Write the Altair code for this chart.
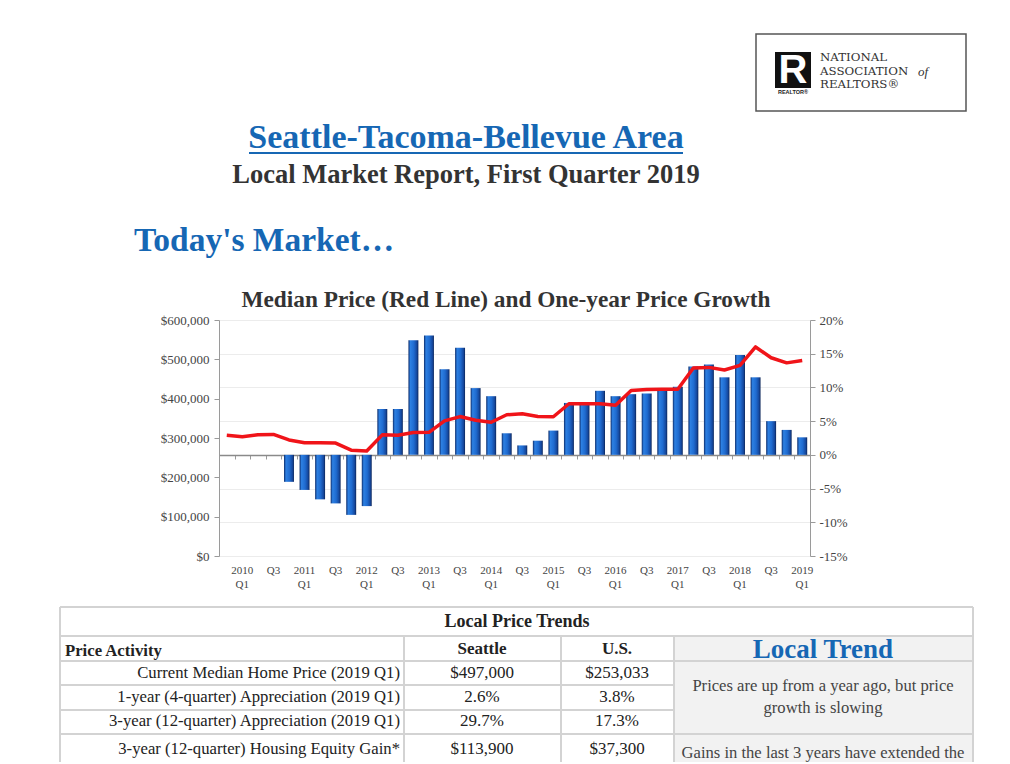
import altair as alt
import pandas as pd

# ---------------- data ----------------
quarters = ["2009 Q4"] + [f"{y} Q{q}" for y in range(2010, 2019) for q in range(1, 5)] + ["2019 Q1"]

median_price = [
    306800,
    303400, 308000, 309000, 295000,
    288000, 288000, 287000, 269000,
    267000, 308000, 307000, 314000,
    314500, 343500, 354500, 345000,
    340000, 359000, 361500, 354500,
    354000, 387000, 387000, 387000,
    383000, 421000, 423000, 424000,
    424000, 478000, 479500, 473000,
    484500, 531500, 504000, 491000,
    497000,
]

price_growth = [
    None,
    None, None, None, -4.0,
    -5.2, -6.6, -7.2, -8.9,
    -7.6, 6.8, 6.8, 17.0,
    17.7, 12.7, 15.9, 9.9,
    8.7, 3.2, 1.4, 2.1,
    3.6, 7.7, 7.4, 9.5,
    8.7, 9.0, 9.1, 9.5,
    10.1, 13.1, 13.4, 11.5,
    14.8, 11.5, 5.0, 3.7,
    2.6,
]

label_quarters = [q for q in quarters if (q.endswith("Q1") or q.endswith("Q3")) and q != "2009 Q4"]

price_ticks = [0, 100000, 200000, 300000, 400000, 500000, 600000]
growth_ticks = [-15, -10, -5, 0, 5, 10, 15, 20]

table_rows = [
    "Current Median Home Price (2019 Q1)",
    "1-year (4-quarter) Appreciation (2019 Q1)",
    "3-year (12-quarter) Appreciation (2019 Q1)",
    "3-year (12-quarter) Housing Equity Gain*",
]
seattle_vals = ["$497,000", "2.6%", "29.7%", "$113,900"]
us_vals = ["$253,033", "3.8%", "17.3%", "$37,300"]

df = pd.DataFrame({"quarter": quarters, "price": median_price, "growth": price_growth})

# ---------------- layout ----------------
SERIF = "Liberation Serif"
OX, OY = 219, 320          # page position of plot origin
W, H = 591, 236
one = pd.DataFrame({"k": [0]})


def px(x):
    return x - OX


def py(y):
    return y - OY


def text(s, x, y, size, weight="normal", color="#333333", align="center", font=SERIF, style="normal"):
    return alt.Chart(one).mark_text(
        text=s, font=font, fontSize=size, fontWeight=weight, color=color,
        align=align, baseline="middle", fontStyle=style,
    ).encode(x=alt.value(px(x)), y=alt.value(py(y)))


def hline(x1, x2, y, color="#d3d3d3", width=2):
    return alt.Chart(one).mark_rule(color=color, strokeWidth=width).encode(
        x=alt.value(px(x1)), x2=alt.value(px(x2)), y=alt.value(py(y)))


def vline(x, y1, y2, color="#d3d3d3", width=2):
    return alt.Chart(one).mark_rule(color=color, strokeWidth=width).encode(
        x=alt.value(px(x)), y=alt.value(py(y1)), y2=alt.value(py(y2)))


def box(x1, y1, x2, y2, fill="#f2f2f2", stroke=None, sw=0):
    kw = dict(fill=fill)
    if stroke:
        kw.update(stroke=stroke, strokeWidth=sw)
    return alt.Chart(one).mark_rect(**kw).encode(
        x=alt.value(px(x1)), x2=alt.value(px(x2)), y=alt.value(py(y1)), y2=alt.value(py(y2)))


# ---------------- chart ----------------
bar_grad = alt.Gradient(
    gradient="linear", x1=0, x2=1, y1=0, y2=0,
    stops=[
        alt.GradientStop(color="#0c2b6a", offset=0),
        alt.GradientStop(color="#2d80e2", offset=0.2),
        alt.GradientStop(color="#1f6bd0", offset=0.55),
        alt.GradientStop(color="#15479c", offset=0.85),
        alt.GradientStop(color="#0a2458", offset=1),
    ],
)

x_sort = quarters
bars = alt.Chart(df).mark_bar(color=bar_grad, width=alt.RelativeBandSize(0.64)).encode(
    x=alt.X("quarter:N", sort=x_sort,
            scale=alt.Scale(paddingInner=0, paddingOuter=0),
            axis=alt.Axis(values=label_quarters, ticks=False, domain=False, labelAngle=0,
                          title=None, labelFont=SERIF, labelFontSize=11, labelColor="#444444",
                          labelPadding=14, labelLineHeight=14, labelBaseline="middle",
                          labelExpr="indexof(datum.value, 'Q1') >= 0 ? split(datum.value, ' ') : substring(datum.value, 5)")),
    y=alt.Y("growth:Q",
            scale=alt.Scale(domain=[-15, 20], nice=False, zero=False),
            axis=alt.Axis(orient="right", values=growth_ticks, labelExpr="datum.value + '%'",
                          grid=True, gridColor="#ececec", domainColor="#9a9a9a", tickColor="#9a9a9a",
                          tickSize=5, labelFont=SERIF, labelFontSize=13, labelColor="#444444",
                          labelPadding=4, title=None)),
)

line = alt.Chart(df).mark_line(color="#f01419", strokeWidth=3.5, strokeJoin="round").encode(
    x=alt.X("quarter:N", sort=x_sort,
            axis=alt.Axis(orient="bottom", offset=-101, labels=False, ticks=True, tickBand="extent",
                          tickSize=4, tickColor="#9a9a9a", domainColor="#8a8a8a", domainWidth=1.5,
                          title=None, grid=False)),
    y=alt.Y("price:Q",
            scale=alt.Scale(domain=[0, 600000], nice=False),
            axis=alt.Axis(orient="left", values=price_ticks, format="$,.0f", grid=False,
                          domainColor="#9a9a9a", tickColor="#9a9a9a", tickSize=5,
                          labelFont=SERIF, labelFontSize=13, labelColor="#444444",
                          labelPadding=5, title=None)),
)

BLUE = "#1667b4"
decor = [
    # logo
    box(756, 34, 966, 111, fill="white", stroke="#555555", sw=1.5),
    box(775, 52, 811, 88, fill="#111111"),
    text("R", 793, 71, 40, weight="bold", color="white", font="Liberation Sans"),
    text("REALTOR®", 793, 92, 5.5, weight="bold", color="#222222", font="Liberation Sans"),
    text("NATIONAL", 820, 57, 11.8, color="#333333", align="left", font="DejaVu Serif"),
    text("ASSOCIATION", 820, 70.5, 11.8, color="#333333", align="left", font="DejaVu Serif"),
    text("of", 918, 71.5, 13, color="#333333", align="left", style="italic"),
    text("REALTORS®", 820, 84, 11.8, color="#333333", align="left", font="DejaVu Serif"),
    # titles
    text("Seattle-Tacoma-Bellevue Area", 466, 138, 34, weight="bold", color=BLUE),
    hline(249, 683, 153, color=BLUE, width=2),
    text("Local Market Report, First Quarter 2019", 466, 175, 26.5, weight="bold", color="#333333"),
    text("Today's Market…", 134, 241, 33.5, weight="bold", color=BLUE, align="left"),
    text("Median Price (Red Line) and One-year Price Growth", 506, 300, 23.3, weight="bold", color="#333333"),
    # table backgrounds
    box(674, 636, 973, 780, fill="#f2f2f2"),
    # table lines
    hline(60, 973, 607), hline(60, 973, 636), hline(60, 973, 661),
    hline(60, 674, 685), hline(60, 674, 710), hline(60, 973, 734), hline(60, 973, 764),
    vline(60, 607, 780), vline(973, 607, 780),
    vline(404, 636, 780), vline(561, 636, 780), vline(674, 636, 780),
    # table text
    text("Local Price Trends", 517, 622, 18, weight="bold", color="#222222"),
    text("Price Activity", 65, 651, 16.7, weight="bold", color="#222222", align="left"),
    text("Seattle", 482, 649, 17, weight="bold", color="#222222"),
    text("U.S.", 617, 649, 17, weight="bold", color="#222222"),
    text("Local Trend", 823, 650, 27, weight="bold", color=BLUE),
    text("Prices are up from a year ago, but price", 823, 686, 16.6, color="#444444"),
    text("growth is slowing", 823, 708, 16.6, color="#444444"),
    text("Gains in the last 3 years have extended the", 823, 753, 16.6, color="#444444"),
]
row_y = [673, 697, 721, 749]
for lbl, sv, uv, yy in zip(table_rows, seattle_vals, us_vals, row_y):
    decor.append(text(lbl, 400, yy, 16.7, color="#222222", align="right"))
    decor.append(text(sv, 482, yy, 17, color="#222222"))
    decor.append(text(uv, 617, yy, 17, color="#222222"))

chart = alt.layer(bars, line, *decor).resolve_scale(y="independent").resolve_axis(x="independent").properties(
    width=W, height=H,
    autosize=alt.AutoSizeParams(type="none"),
    padding={"left": OX - 8, "top": OY - 8, "right": 192, "bottom": 206},
).configure_view(strokeWidth=0)

chart.save("out.html", embed_options={"renderer": "svg", "actions": False})
